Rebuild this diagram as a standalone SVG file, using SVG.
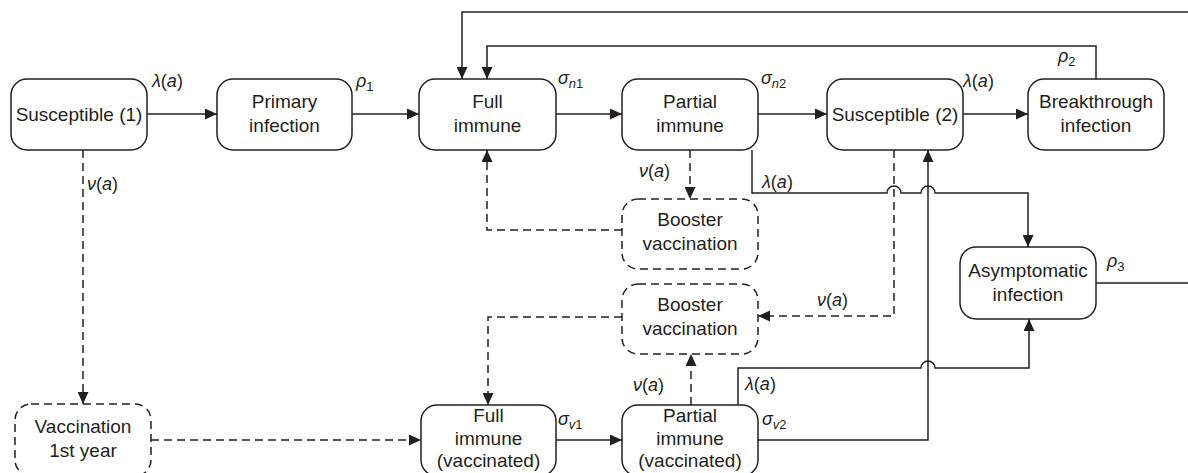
<svg xmlns="http://www.w3.org/2000/svg" width="1188" height="473" viewBox="0 0 1188 473">
<style>
.n{fill:#fff;stroke:#231f20;stroke-width:1.5}
.d{stroke-dasharray:8 5}
.t{font-family:"Liberation Sans",Arial,sans-serif;font-size:19px;fill:#231f20;text-anchor:middle}
.l{font-family:"Liberation Sans",Arial,sans-serif;font-size:18px;fill:#231f20}
.i{font-style:italic}
.s{font-size:13px}
.c{fill:none;stroke:#231f20;stroke-width:1.5}
</style>
<defs>
<marker id="ah" markerUnits="userSpaceOnUse" viewBox="0 0 12 11" refX="12" refY="5.5" markerWidth="12" markerHeight="11" orient="auto">
<path d="M0,0 L12,5.5 L0,11 z" fill="#231f20"/>
</marker>
</defs>
<rect width="1188" height="473" fill="#fff"/>
<g id="connectors">
<path class="c" d="M147,114 H217" marker-end="url(#ah)"/>
<path class="c" d="M352,114 H419" marker-end="url(#ah)"/>
<path class="c" d="M556,114 H622" marker-end="url(#ah)"/>
<path class="c" d="M758,114 H827" marker-end="url(#ah)"/>
<path class="c" d="M963,114 H1028" marker-end="url(#ah)"/>
<path class="c" d="M1188,12 H462 V79" marker-end="url(#ah)"/>
<path class="c" d="M1096,79 V46 H487 V79" marker-end="url(#ah)"/>
<path class="c d" d="M83,150 V404" marker-end="url(#ah)"/>
<path class="c d" d="M151,440 H421" marker-end="url(#ah)"/>
<path class="c" d="M556,440 H622" marker-end="url(#ah)"/>
<path class="c d" d="M690,150 V199" marker-end="url(#ah)"/>
<path class="c d" d="M622,230 H487 V150" marker-end="url(#ah)"/>
<path class="c" d="M752,150 V193 H887 A7,7 0 0 1 901,193 H921 A7,7 0 0 1 935,193 H1028 V247" marker-end="url(#ah)"/>
<path class="c d" d="M894,150 V316 H758" marker-end="url(#ah)"/>
<path class="c" d="M758,440 H928 V150" marker-end="url(#ah)"/>
<path class="c" d="M738,405 V368 H921 A7,7 0 0 1 935,368 H1029 V319" marker-end="url(#ah)"/>
<path class="c d" d="M691,405 V354" marker-end="url(#ah)"/>
<path class="c d" d="M622,317 H488 V405" marker-end="url(#ah)"/>
<path class="c" d="M1096,283 H1188"/>
</g>
<g id="labels">
<text class="l" x="152" y="87"><tspan class="i">λ</tspan>(<tspan class="i">a</tspan>)</text>
<text class="l" x="356" y="87"><tspan class="i">ρ</tspan><tspan class="s" dy="4">1</tspan></text>
<text class="l" x="558" y="84"><tspan class="i">σ</tspan><tspan class="s i" dy="4">n</tspan><tspan class="s">1</tspan></text>
<text class="l" x="761" y="84"><tspan class="i">σ</tspan><tspan class="s i" dy="4">n</tspan><tspan class="s">2</tspan></text>
<text class="l" x="963" y="87"><tspan class="i">λ</tspan>(<tspan class="i">a</tspan>)</text>
<text class="l" x="1058" y="62"><tspan class="i">ρ</tspan><tspan class="s" dy="4">2</tspan></text>
<text class="l" x="87" y="190"><tspan class="i">ν</tspan>(<tspan class="i">a</tspan>)</text>
<text class="l" x="639" y="177"><tspan class="i">ν</tspan>(<tspan class="i">a</tspan>)</text>
<text class="l" x="762" y="188"><tspan class="i">λ</tspan>(<tspan class="i">a</tspan>)</text>
<text class="l" x="1107" y="267"><tspan class="i">ρ</tspan><tspan class="s" dy="4">3</tspan></text>
<text class="l" x="817" y="306"><tspan class="i">ν</tspan>(<tspan class="i">a</tspan>)</text>
<text class="l" x="633" y="391"><tspan class="i">ν</tspan>(<tspan class="i">a</tspan>)</text>
<text class="l" x="745" y="390"><tspan class="i">λ</tspan>(<tspan class="i">a</tspan>)</text>
<text class="l" x="558" y="425"><tspan class="i">σ</tspan><tspan class="s i" dy="4">v</tspan><tspan class="s">1</tspan></text>
<text class="l" x="762" y="425"><tspan class="i">σ</tspan><tspan class="s i" dy="4">v</tspan><tspan class="s">2</tspan></text>
</g>
<g id="susceptible1"><rect class="n" x="11" y="79" width="136" height="71" rx="16"/><text class="t" x="79" y="121">Susceptible (1)</text></g>
<g id="primary"><rect class="n" x="217" y="79" width="135" height="71" rx="16"/><text class="t" x="284.5" y="108">Primary</text><text class="t" x="284.5" y="132">infection</text></g>
<g id="fullimmune"><rect class="n" x="419" y="79" width="137" height="71" rx="16"/><text class="t" x="487.5" y="108">Full</text><text class="t" x="487.5" y="132">immune</text></g>
<g id="partialimmune"><rect class="n" x="622" y="79" width="136" height="71" rx="16"/><text class="t" x="690" y="108">Partial</text><text class="t" x="690" y="132">immune</text></g>
<g id="susceptible2"><rect class="n" x="827" y="79" width="136" height="71" rx="16"/><text class="t" x="895" y="121">Susceptible (2)</text></g>
<g id="breakthrough"><rect class="n" x="1028" y="79" width="136" height="71" rx="16"/><text class="t" x="1096" y="108">Breakthrough</text><text class="t" x="1096" y="132">infection</text></g>
<g id="booster1"><rect class="n d" x="622" y="199" width="136" height="70" rx="16"/><text class="t" x="690" y="226">Booster</text><text class="t" x="690" y="250">vaccination</text></g>
<g id="asymptomatic"><rect class="n" x="960" y="247" width="136" height="72" rx="16"/><text class="t" x="1028" y="277">Asymptomatic</text><text class="t" x="1028" y="301">infection</text></g>
<g id="booster2"><rect class="n d" x="622" y="284" width="136" height="70" rx="16"/><text class="t" x="690" y="311">Booster</text><text class="t" x="690" y="335">vaccination</text></g>
<g id="vaccination1"><rect class="n d" x="15" y="404" width="136" height="72" rx="16"/><text class="t" x="83" y="433">Vaccination</text><text class="t" x="83" y="457">1st year</text></g>
<g id="fullvacc"><rect class="n" x="421" y="405" width="135" height="71" rx="16"/><text class="t" x="488.5" y="422">Full</text><text class="t" x="488.5" y="445">immune</text><text class="t" x="488.5" y="467">(vaccinated)</text></g>
<g id="partialvacc"><rect class="n" x="622" y="405" width="136" height="71" rx="16"/><text class="t" x="690" y="422">Partial</text><text class="t" x="690" y="445">immune</text><text class="t" x="690" y="467">(vaccinated)</text></g>
</svg>
